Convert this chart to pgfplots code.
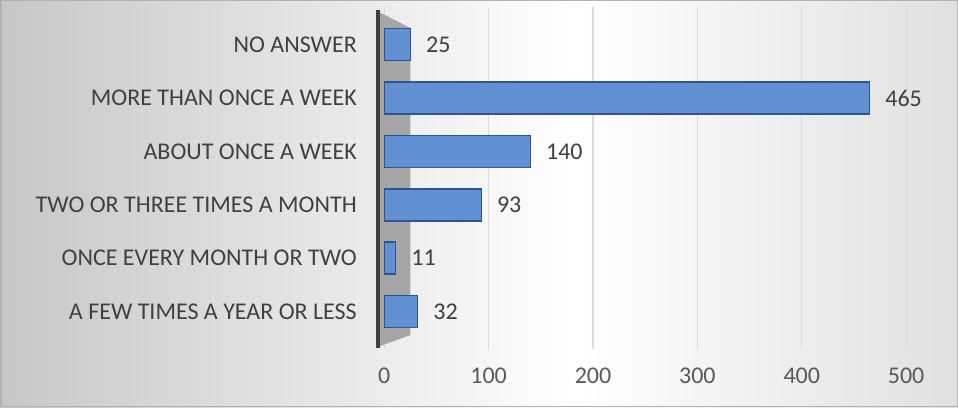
\documentclass[border=0pt]{standalone}
\usepackage{pgfplots}
\pgfplotsset{compat=1.18}
\usepackage{fontspec}
\setmainfont{Carlito}
\definecolor{txt}{HTML}{404040}
\definecolor{ticktxt}{HTML}{595959}
\definecolor{barfill}{HTML}{6191D2}
\definecolor{bardraw}{HTML}{2F5597}
\definecolor{wall}{HTML}{A6A6A6}
\definecolor{gridc}{HTML}{DCDCDC}
\pgfdeclarehorizontalshading{bgshade}{100bp}{color(0bp)=(black!22); color(25bp)=(black!22); color(55bp)=(white); color(75bp)=(black!12); color(100bp)=(black!12)}
\begin{document}
\begin{tikzpicture}
\shade[shading=bgshade] (0,0) rectangle (958pt,407pt);
\draw[black!30, line width=1.5pt] (0.75pt,0.75pt) rectangle (957.25pt,406.25pt);
\begin{axis}[
  at={(378pt,58pt)}, anchor=south west,
  scale only axis, width=549pt, height=341.8pt,
  xmin=-6, xmax=520, ymin=-0.7, ymax=5.7,
  axis line style={draw=none},
  xmajorgrids, grid style={gridc, line width=1.2pt},
  xtick={0,100,200,300,400,500},
  ytick={0,1,2,3,4,5},
  yticklabels={A FEW TIMES A YEAR OR LESS, ONCE EVERY MONTH OR TWO, TWO OR THREE TIMES A MONTH, ABOUT ONCE A WEEK, MORE THAN ONCE A WEEK, NO ANSWER},
  major tick length=0pt,
  /pgf/number format/assume math mode=true,
  tick label style={font=\fontsize{24}{28}\selectfont},
  xticklabel style={ticktxt, anchor=center, inner sep=0pt, yshift=-27pt},
  yticklabel style={txt, anchor=east, inner sep=0pt, xshift=-21pt},
  xbar, bar width=32pt,
  nodes near coords,
  nodes near coords style={txt, font=\fontsize{24}{28}\selectfont, anchor=west, xshift=15pt, inner sep=0pt},
  clip=false,
]
\fill[wall] (axis cs:-6,5.62) -- (axis cs:25,5.31) -- (axis cs:25,-0.44) -- (axis cs:-6,-0.66) -- cycle;
\draw[txt, line width=4.5pt] (axis cs:-6,5.64) -- (axis cs:-6,-0.68);
\addplot[draw=bardraw, line width=1.5pt, fill=barfill]
  coordinates {(32,0) (11,1) (93,2) (140,3) (465,4) (25,5)};
\end{axis}
\pgfresetboundingbox
\path (0,0) rectangle (958pt,407pt);
\end{tikzpicture}
\end{document}
